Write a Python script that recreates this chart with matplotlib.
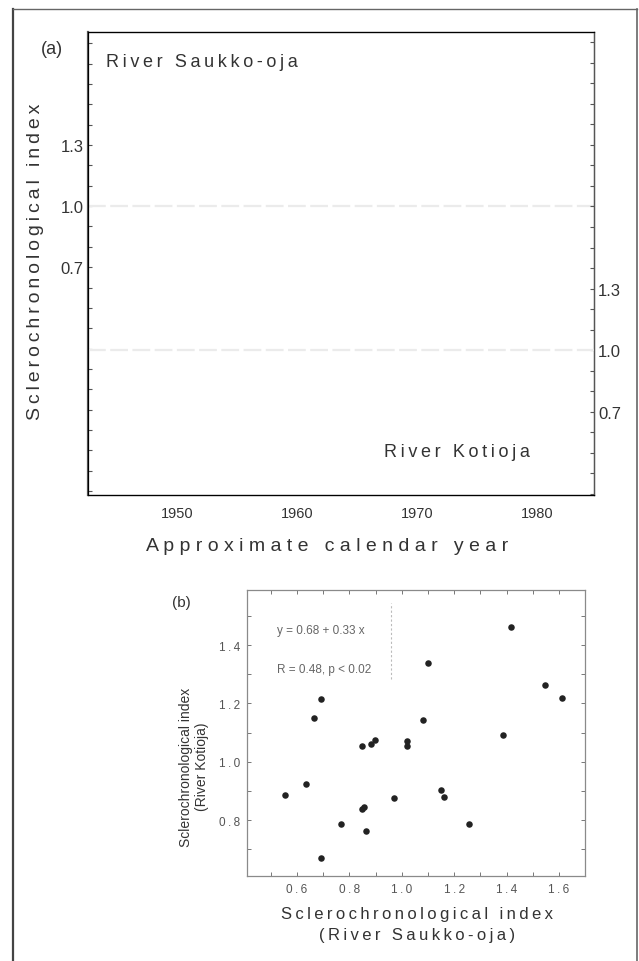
import matplotlib
matplotlib.use("Agg")
import matplotlib.pyplot as plt
from matplotlib.lines import Line2D
from matplotlib.ticker import FixedLocator, MultipleLocator

plt.rcParams["font.family"] = ["Liberation Sans", "DejaVu Sans"]

# ── data ────────────────────────────────────────────────────────────
year_ticks = [1950, 1960, 1970, 1980]
index_ticks = [0.7, 1.0, 1.3]

# panel (b): Saukko-oja index (x) vs Kotioja index (y)
saukko = [0.554, 0.634, 0.665, 0.690, 0.692, 0.768, 0.847, 0.849, 0.857, 0.863,
          0.884, 0.899, 0.971, 1.020, 1.020, 1.082, 1.101, 1.151, 1.161, 1.257,
          1.387, 1.418, 1.548, 1.613]
kotioja = [0.885, 0.925, 1.150, 1.214, 0.669, 0.786, 1.053, 0.838, 0.845, 0.763,
           1.062, 1.075, 0.877, 1.070, 1.054, 1.142, 1.337, 0.902, 0.879, 0.786,
           1.092, 1.461, 1.263, 1.217]
scatter_xticks = [0.6, 0.8, 1.0, 1.2, 1.4, 1.6]
scatter_yticks = [0.8, 1.0, 1.2, 1.4]

TEXT = "#333333"
W, H = 639, 962


def spaced(text, gap="\u2009"):
    """Loose letter spacing like the scanned figure."""
    return gap.join(text)


def fx(px):
    return px / W


def fy(py):
    return 1 - py / H


fig = plt.figure(figsize=(W / 100, H / 100), dpi=100)

# outer frame of the figure page
frame_kw = dict(color="#444444", lw=1.6, transform=fig.transFigure)
fig.add_artist(Line2D([fx(13), fx(13)], [0, fy(10)], **frame_kw))
fig.add_artist(Line2D([fx(13), fx(637)], [fy(10), fy(10)], lw=1.0, color="#666666",
                      transform=fig.transFigure))
fig.add_artist(Line2D([fx(637), fx(637)], [0, fy(10)], lw=1.2, color="#666666",
                      transform=fig.transFigure))

# ── panel (a) ───────────────────────────────────────────────────────
ax1 = fig.add_axes([fx(88), fy(496), fx(594) - fx(88), fy(33) - fy(496)])
ax1.set_xlim(1942.6, 1984.75)
ax1.set_ylim(-0.42, 1.856)
ax2 = ax1.twinx()
ax2.set_ylim(0.293, 2.551)

ax1.axhline(1.0, color="#ebebeb", lw=1.6, ls=(0, (8, 2)))
ax2.axhline(1.0, color="#ebebeb", lw=1.6, ls=(0, (8, 2)))

for spine in ax1.spines.values():
    spine.set_color("#555555")
    spine.set_linewidth(1.0)
ax1.spines["left"].set_linewidth(1.6)

ax1.xaxis.set_major_locator(FixedLocator(year_ticks))
ax1.tick_params(axis="x", length=0, pad=8, labelsize=10.5, colors=TEXT)

for ax in (ax1, ax2):
    ax.yaxis.set_major_locator(FixedLocator(index_ticks))
    ax.yaxis.set_minor_locator(MultipleLocator(0.1))
    ax.tick_params(axis="y", which="both", direction="in", length=3, width=0.8,
                   color="#555555", labelsize=12, labelcolor=TEXT, pad=3)
    ax.yaxis.set_major_formatter(matplotlib.ticker.FormatStrFormatter("%.1f"))
ax2.spines["right"].set_color("#555555")

ax1.text(0.035, 0.955, spaced("River Saukko-oja"), transform=ax1.transAxes,
         fontsize=13, color=TEXT, va="top", ha="left")
ax1.text(0.585, 0.095, spaced("River Kotioja"), transform=ax1.transAxes,
         fontsize=13, color=TEXT, va="center", ha="left")

fig.text(fx(52), fy(50), "(a)", fontsize=13, color=TEXT, ha="center", va="center")
fig.text(fx(36), fy(262), spaced("Sclerochronological index"), rotation=90,
         fontsize=14, color=TEXT, ha="center", va="center")
fig.text(fx(327), fy(547), spaced("Approximate calendar year", " "),
         fontsize=14, color=TEXT, ha="center", va="center")

# ── panel (b) ───────────────────────────────────────────────────────
ax3 = fig.add_axes([fx(247), fy(877), fx(585) - fx(247), fy(591) - fy(877)])
ax3.scatter(saukko, kotioja, s=22, color="#222222", zorder=3, linewidths=0)
ax3.set_xlim(0.409, 1.699)
ax3.set_ylim(0.608, 1.589)

for spine in ax3.spines.values():
    spine.set_color("#8a8a8a")
    spine.set_linewidth(0.9)

ax3.xaxis.set_major_locator(FixedLocator(scatter_xticks))
ax3.yaxis.set_major_locator(FixedLocator(scatter_yticks))
ax3.xaxis.set_minor_locator(MultipleLocator(0.1))
ax3.yaxis.set_minor_locator(MultipleLocator(0.1))
ax3.xaxis.set_major_formatter(matplotlib.ticker.FuncFormatter(lambda v, p: spaced(f"{v:.1f}")))
ax3.yaxis.set_major_formatter(matplotlib.ticker.FuncFormatter(lambda v, p: spaced(f"{v:.1f}")))
ax3.tick_params(which="both", direction="in", length=3, width=0.7, color="#777777",
                top=True, right=True, labelsize=8.5, labelcolor="#555555", pad=5)

ax3.axvline(1.0 - (402 - 391) / 262, ymin=0.69, ymax=0.955, color="#bbbbbb",
            lw=0.8, ls=(0, (2, 2)))
ax3.text(0.09, 0.86, "y = 0.68 + 0.33 x", transform=ax3.transAxes,
         fontsize=8.5, color="#666666", va="center", ha="left")
ax3.text(0.09, 0.725, "R = 0.48, p < 0.02", transform=ax3.transAxes,
         fontsize=8.5, color="#666666", va="center", ha="left")

fig.text(fx(181), fy(603), "(b)", fontsize=11, color=TEXT, ha="center", va="center")
fig.text(fx(186), fy(767), "Sclerochronological index", rotation=90,
         fontsize=10, color=TEXT, ha="center", va="center")
fig.text(fx(202), fy(767), "(River Kotioja)", rotation=90,
         fontsize=10, color=TEXT, ha="center", va="center")
fig.text(fx(417), fy(915), spaced("Sclerochronological index"),
         fontsize=12, color=TEXT, ha="center", va="center")
fig.text(fx(417), fy(936), spaced("(River Saukko-oja)"),
         fontsize=12, color=TEXT, ha="center", va="center")

fig.savefig("out.png", dpi=100)
